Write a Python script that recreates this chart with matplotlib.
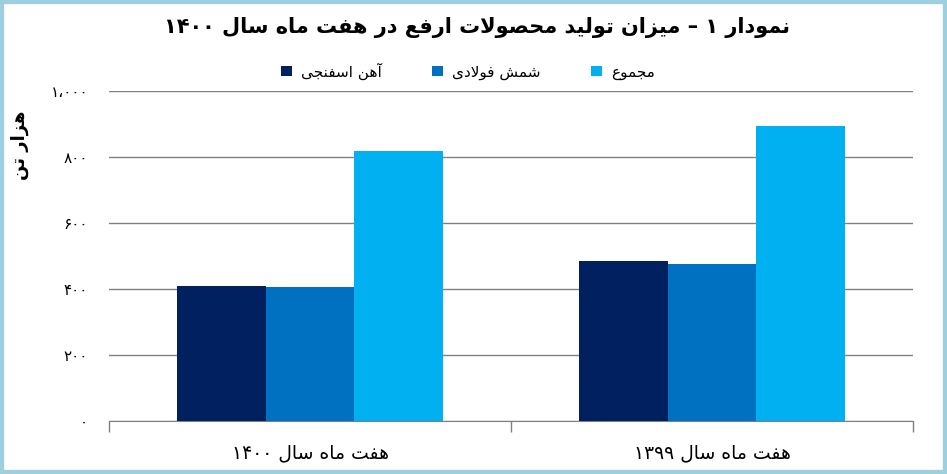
import numpy as np
import matplotlib
matplotlib.use('Agg')
import matplotlib.pyplot as plt
from matplotlib.patches import Rectangle

# --- minimal Persian shaping (matplotlib has no complex text layout) ---
FORMS = {
    # letter: (isolated, final, initial, medial)
    'ا': ('\uFE8D', '\uFE8E', None, None),
    'آ': ('\uFE81', '\uFE82', None, None),
    'ت': ('\uFE95', '\uFE96', '\uFE97', '\uFE98'),
    'ج': ('\uFE9D', '\uFE9E', '\uFE9F', '\uFEA0'),
    'ح': ('\uFEA1', '\uFEA2', '\uFEA3', '\uFEA4'),
    'د': ('\uFEA9', '\uFEAA', None, None),
    'ر': ('\uFEAD', '\uFEAE', None, None),
    'ز': ('\uFEAF', '\uFEB0', None, None),
    'س': ('\uFEB1', '\uFEB2', '\uFEB3', '\uFEB4'),
    'ش': ('\uFEB5', '\uFEB6', '\uFEB7', '\uFEB8'),
    'ص': ('\uFEB9', '\uFEBA', '\uFEBB', '\uFEBC'),
    'ع': ('\uFEC9', '\uFECA', '\uFECB', '\uFECC'),
    'ف': ('\uFED1', '\uFED2', '\uFED3', '\uFED4'),
    'ل': ('\uFEDD', '\uFEDE', '\uFEDF', '\uFEE0'),
    'م': ('\uFEE1', '\uFEE2', '\uFEE3', '\uFEE4'),
    'ن': ('\uFEE5', '\uFEE6', '\uFEE7', '\uFEE8'),
    'ه': ('\uFEE9', '\uFEEA', '\uFEEB', '\uFEEC'),
    'و': ('\uFEED', '\uFEEE', None, None),
    'ی': ('\uFBFC', '\uFBFD', '\uFBFE', '\uFBFF'),
}
LAM_ALEF = ('\uFEFB', '\uFEFC')
DIGITS = set('۰۱۲۳۴۵۶۷۸۹0123456789')


def joins_next(ch):
    f = FORMS.get(ch)
    return f is not None and f[2] is not None


def shape(text):
    chars = list(text)
    out = []
    i = 0
    while i < len(chars):
        c = chars[i]
        if c not in FORMS:
            out.append(c)
            i += 1
            continue
        prev_joins = i > 0 and joins_next(chars[i - 1])
        if c == 'ل' and i + 1 < len(chars) and chars[i + 1] == 'ا':
            out.append(LAM_ALEF[1] if prev_joins else LAM_ALEF[0])
            i += 2
            continue
        nxt = chars[i + 1] if i + 1 < len(chars) else ''
        next_joins = joins_next(c) and nxt in FORMS
        iso, fin, ini, med = FORMS[c]
        if prev_joins and next_joins:
            out.append(med)
        elif prev_joins:
            out.append(fin)
        elif next_joins:
            out.append(ini)
        else:
            out.append(iso)
        i += 1
    # visual order: reverse, keep digit runs left-to-right
    runs = []
    for ch in out:
        is_d = ch in DIGITS
        if runs and runs[-1][0] == is_d:
            runs[-1][1].append(ch)
        else:
            runs.append((is_d, [ch]))
    vis = ''
    for is_d, r in reversed(runs):
        vis += ''.join(r) if is_d else ''.join(reversed(r))
    return vis


# --- data ---
categories = ['هفت ماه سال ۱۴۰۰', 'هفت ماه سال ۱۳۹۹']
series_names = ['آهن اسفنجی', 'شمش فولادی', 'مجموع']
sponge_iron = [409, 485]
steel_billet = [406, 476]
total = [818, 894]
y_ticks = [0, 200, 400, 600, 800, 1000]
y_tick_labels = ['۰', '۲۰۰', '۴۰۰', '۶۰۰', '۸۰۰', '۱،۰۰۰']
colors = ['#002060', '#0070C0', '#00B0F0']

title = 'نمودار ۱ – میزان تولید محصولات ارفع در هفت ماه سال ۱۴۰۰'
y_label = 'هزار تن'

plt.rcParams['font.family'] = ['DejaVu Sans']

fig = plt.figure(figsize=(9.47, 4.74), dpi=100)
ax = fig.add_axes([109 / 947, 1 - 421 / 474, (913 - 109) / 947, (421 - 91) / 474])

x = np.arange(len(categories))
w = 0.22
for k, vals in enumerate([sponge_iron, steel_billet, total]):
    ax.bar(x + (k - 1) * w, vals, width=w, color=colors[k],
           label=shape(series_names[k]), zorder=3)

ax.set_xlim(-0.5, 1.5)
ax.set_ylim(0, 1000)
ax.set_yticks(y_ticks)
ax.set_yticklabels(y_tick_labels, fontsize=11)
ax.tick_params(axis='y', length=0, pad=15)
ax.grid(axis='y', color='#808080', linewidth=1, zorder=0)

# category labels + boundary tick marks
ax.set_xticks(x)
ax.set_xticklabels([shape(c) for c in categories], fontsize=13.5)
ax.tick_params(axis='x', length=0, pad=16)
ax.set_xticks([-0.5, 0.5, 1.5], minor=True)
ax.tick_params(axis='x', which='minor', length=8, color='#808080', width=1)

for s in ['top', 'right', 'left']:
    ax.spines[s].set_visible(False)
ax.spines['bottom'].set_color('#808080')

ax.set_ylabel(shape(y_label), fontsize=13, fontweight='bold')
ax.yaxis.set_label_coords(-0.1, 0.836)

fig.text(477 / 947, 1 - 27 / 474, shape(title), ha='center', va='center',
         fontsize=15, fontweight='bold')

fig.legend(loc='center', bbox_to_anchor=(468 / 947, 1 - 71 / 474), ncol=3,
           frameon=False, fontsize=11, handlelength=0.7, handleheight=0.7,
           columnspacing=3.3, handletextpad=0.6)

fig.patches.append(Rectangle((0, 0), 1, 1, transform=fig.transFigure, fill=False,
                             edgecolor='#9DCFDF', linewidth=6, zorder=10))

fig.savefig('out.png', dpi=100, facecolor='white')
